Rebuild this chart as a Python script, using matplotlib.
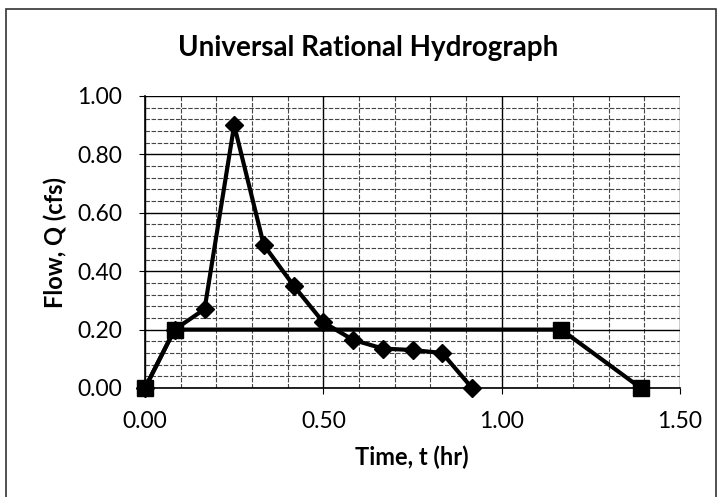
import matplotlib.pyplot as plt
from matplotlib.patches import Rectangle
from matplotlib.ticker import MultipleLocator, FormatStrFormatter

# hydrograph (diamonds), time in hr, flow in cfs
hydro_t = [0.0, 0.083, 0.167, 0.25, 0.333, 0.417, 0.5, 0.583, 0.667, 0.75, 0.833, 0.917]
hydro_q = [0.0, 0.20, 0.27, 0.90, 0.49, 0.35, 0.225, 0.165, 0.135, 0.13, 0.12, 0.0]

# rational trapezoid (squares)
rat_t = [0.0, 0.083, 1.167, 1.39]
rat_q = [0.0, 0.20, 0.20, 0.0]

plt.rcParams['font.family'] = ['Lato', 'DejaVu Sans']

fig = plt.figure(figsize=(7.22, 4.97), dpi=100)
ax = fig.add_axes([145 / 722, 1 - 388 / 497, 535 / 722, 292 / 497])

# chart border (left, top, right; bottom runs off the picture)
fig.patches.append(Rectangle((6 / 722, -0.05), 710 / 722, 1.05 - 9 / 497,
                             transform=fig.transFigure, fill=False,
                             edgecolor='#333333', linewidth=1.2))

ax.plot(rat_t, rat_q, color='black', linewidth=3, marker='s',
        markersize=12, zorder=3, clip_on=False)
ax.plot(hydro_t, hydro_q, color='black', linewidth=3, marker='D',
        markersize=9, zorder=4, clip_on=False)

ax.set_xlim(0, 1.5)
ax.set_ylim(0, 1.0)
ax.xaxis.set_major_locator(MultipleLocator(0.5))
ax.xaxis.set_minor_locator(MultipleLocator(0.1))
ax.yaxis.set_major_locator(MultipleLocator(0.2))
ax.yaxis.set_minor_locator(MultipleLocator(0.04))
ax.xaxis.set_major_formatter(FormatStrFormatter('%.2f'))
ax.yaxis.set_major_formatter(FormatStrFormatter('%.2f'))

ax.grid(which='major', color='black', linewidth=1.0)
ax.grid(which='minor', color='#444444', linewidth=0.8, linestyle=(0, (4, 1.5)))
ax.set_axisbelow(True)

for s in ['top', 'right']:
    ax.spines[s].set_visible(False)
ax.spines['left'].set_linewidth(1.2)
ax.spines['bottom'].set_linewidth(1.2)

ax.tick_params(which='major', direction='out', length=4.5, labelsize=16.5, pad=12)
ax.tick_params(which='minor', length=0)

fig.text(412 / 722, 1 - 457 / 497, 'Time, t (hr)', ha='center', va='center',
         fontsize=17, fontweight='bold')
fig.text(55 / 722, 1 - 242 / 497, 'Flow, Q (cfs)', ha='center', va='center',
         rotation=90, fontsize=17, fontweight='bold')
fig.text(368 / 722, 1 - 48 / 497, 'Universal Rational Hydrograph', ha='center',
         va='center', fontsize=20, fontweight='bold')

fig.savefig('out.png', dpi=100)
